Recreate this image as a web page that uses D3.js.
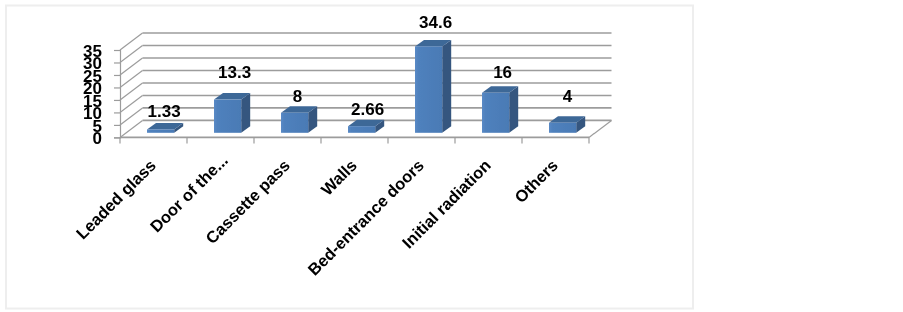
<!DOCTYPE html>
<html>
<head>
    <title>Dose contribution by location</title>
    <style>
        html, body { margin: 0; padding: 0; background: #fff; }
        svg { display: block; }
        text { font-family: "Liberation Sans", Arial, sans-serif; font-weight: bold; fill: #000; }
    </style>
</head>
<body>
    <script src="https://cdn.jsdelivr.net/npm/d3@7"></script>
    <script>
        var categories = ["Leaded glass", "Door of the...", "Cassette pass", "Walls", "Bed-entrance doors", "Initial radiation", "Others"];
        var values = [1.33, 13.3, 8, 2.66, 34.6, 16, 4];
        var valueLabels = ["1.33", "13.3", "8", "2.66", "34.6", "16", "4"];
        var yTicks = [0, 5, 10, 15, 20, 25, 30, 35];

        var width = 903,
            height = 312,
            depthX = 22.5,   // how far the back wall sits from the front axis
            depthY = 17,
            barDepthX = 9,
            barDepthY = 6.5,
            gridColor = "#9c9c9c";

        // Excel drops its data labels wherever it likes, so each one gets a nudge from the bar top
        var labelNudgeX = [3.5, 7, 3, 6, 7, 7, 5];
        var labelNudgeY = [12.4, 22, 11, 11, 18, 15, 21];
        // the truncated label sits further along its slant than the others
        var catNudge = [0, 5, 0, 0, 0, 0, 0];

        var x = d3.scaleBand().domain(categories).range([120, 589]);
        var y = d3.scaleLinear().domain([0, 35]).range([137.4, 50]);
        var yBar = d3.scaleLinear().domain([0, 35]).range([132.8, 45.4]);

        var svg = d3.select("body").append("svg")
            .attr("width", width)
            .attr("height", height);

        var defs = svg.append("defs");
        var soft = defs.append("filter").attr("id", "soft");
        soft.append("feGaussianBlur").attr("stdDeviation", 0.35);

        var front = defs.append("linearGradient").attr("id", "barFront")
            .attr("x1", 0).attr("x2", 1).attr("y1", 0).attr("y2", 0);
        front.append("stop").attr("offset", "0%").attr("stop-color", "#5a8ac6");
        front.append("stop").attr("offset", "12%").attr("stop-color", "#4f81bd");
        front.append("stop").attr("offset", "100%").attr("stop-color", "#4a7ab5");

        // chart frame
        svg.append("rect")
            .attr("x", 6).attr("y", 5.5)
            .attr("width", 687).attr("height", 303)
            .attr("fill", "#fff")
            .attr("stroke", "#eeeeee")
            .attr("stroke-width", 2);

        var plot = svg.append("g").attr("filter", "url(#soft)");

        // back wall gridlines, and the slanted lines on the side wall
        var grid = plot.append("g");
        grid.selectAll(".back").data(yTicks).enter().append("line")
            .attr("x1", x.range()[0] + depthX)
            .attr("x2", x.range()[1] + depthX)
            .attr("y1", function(d) { return y(d) - depthY; })
            .attr("y2", function(d) { return y(d) - depthY; })
            .attr("stroke", gridColor)
            .attr("stroke-width", 1.6);
        grid.selectAll(".side").data(yTicks).enter().append("line")
            .attr("x1", x.range()[0])
            .attr("x2", x.range()[0] + depthX)
            .attr("y1", function(d) { return y(d); })
            .attr("y2", function(d) { return y(d) - depthY; })
            .attr("stroke", gridColor)
            .attr("stroke-width", 1.2);
        grid.append("line")
            .attr("x1", x.range()[1])
            .attr("x2", x.range()[1] + depthX)
            .attr("y1", y(0))
            .attr("y2", y(0) - depthY)
            .attr("stroke", gridColor)
            .attr("stroke-width", 1.2);

        // axes
        var yAxis = plot.append("g")
            .attr("transform", "translate(" + x.range()[0] + ",0)")
            .call(d3.axisLeft(y).tickValues(yTicks).tickSize(6).tickPadding(12));
        yAxis.selectAll("text").style("font-size", "17px").attr("dy", "0.36em");
        yAxis.select(".domain").attr("stroke", gridColor).attr("stroke-width", 1.2);
        yAxis.selectAll(".tick line").attr("stroke", gridColor).attr("stroke-width", 1.2);

        var tickEdges = categories.map(function(d) { return x(d); }).concat(x.range()[1]);
        var xAxis = plot.append("g");
        xAxis.append("line")
            .attr("x1", x.range()[0]).attr("x2", x.range()[1])
            .attr("y1", y(0)).attr("y2", y(0))
            .attr("stroke", gridColor).attr("stroke-width", 1.6);
        xAxis.selectAll(".edge").data(tickEdges).enter().append("line")
            .attr("x1", function(d) { return d; })
            .attr("x2", function(d) { return d; })
            .attr("y1", y(0))
            .attr("y2", y(0) + 6)
            .attr("stroke", gridColor)
            .attr("stroke-width", 1.2);

        xAxis.selectAll(".catLabel").data(categories).enter().append("text")
            .attr("class", "catLabel")
            .attr("text-anchor", "end")
            .style("font-size", "16.5px")
            .attr("transform", function(d, i) {
                return "translate(" + (x(d) + x.bandwidth() / 2 + 3.5 + catNudge[i]) + "," + (y(0) + 29 - catNudge[i]) + ") rotate(-45)";
            })
            .text(function(d) { return d; });

        // bars, drawn as three faces
        var barLeft = 27,
            barWidth = 27.2;

        var bars = plot.selectAll(".bar").data(values).enter().append("g").attr("class", "bar");

        function left(i) { return x(categories[i]) + barLeft; }

        bars.append("path")
            .attr("fill", "#34567f")
            .attr("d", function(d, i) {
                var r = left(i) + barWidth, t = yBar(d), b = yBar(0);
                return "M" + r + "," + t + "L" + (r + barDepthX) + "," + (t - barDepthY) +
                    "L" + (r + barDepthX) + "," + (b - barDepthY) + "L" + r + "," + b + "Z";
            });
        bars.append("path")
            .attr("fill", "#3e6797")
            .attr("d", function(d, i) {
                var l = left(i), r = l + barWidth, t = yBar(d);
                return "M" + l + "," + t + "L" + (l + barDepthX) + "," + (t - barDepthY) +
                    "L" + (r + barDepthX) + "," + (t - barDepthY) + "L" + r + "," + t + "Z";
            });
        bars.append("rect")
            .attr("fill", "url(#barFront)")
            .attr("x", function(d, i) { return left(i); })
            .attr("y", function(d) { return yBar(d); })
            .attr("width", barWidth)
            .attr("height", function(d) { return yBar(0) - yBar(d); });

        // data labels
        plot.selectAll(".valueLabel").data(values).enter().append("text")
            .attr("class", "valueLabel")
            .attr("text-anchor", "middle")
            .style("font-size", "17px")
            .attr("x", function(d, i) { return left(i) + barWidth / 2 + labelNudgeX[i]; })
            .attr("y", function(d, i) { return yBar(d) - labelNudgeY[i]; })
            .text(function(d, i) { return valueLabels[i]; });
    </script>
</body>
</html>
